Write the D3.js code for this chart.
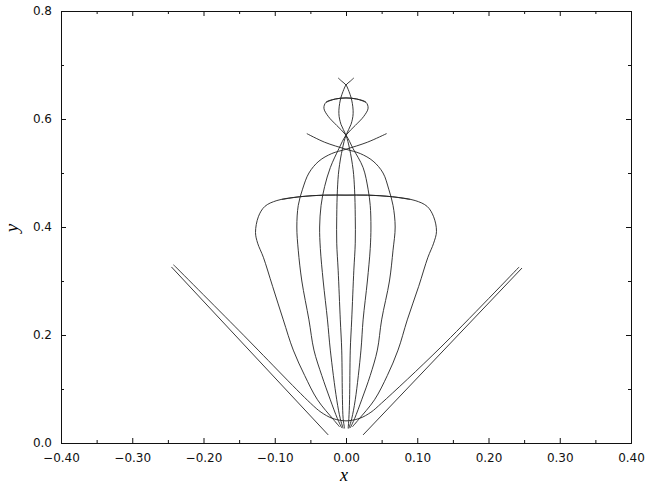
<!DOCTYPE html>
<html>
<head>
<meta charset="utf-8">
<script src="https://cdn.jsdelivr.net/npm/d3@7"></script>
<style>
  body { margin: 0; background: #fff; }
  .tick text { font-family: "DejaVu Sans", sans-serif; font-size: 12px; fill: #111; }
  .tick line, .domain { stroke: #111; }
</style>
</head>
<body>
<div id="chart"></div>
<script>
// tick values
let xTicks = [-0.4, -0.3, -0.2, -0.1, 0, 0.1, 0.2, 0.3, 0.4];
let xMinor = [-0.35, -0.25, -0.15, -0.05, 0.05, 0.15, 0.25, 0.35];
let yTicks = [0, 0.2, 0.4, 0.6, 0.8];
let yMinor = [0.1, 0.3, 0.5, 0.7];

// curves, [x, y]
let innerL = [[-0.002,0.027],[-0.004,0.045],[-0.005,0.08],[-0.006,0.172],[-0.008,0.228],[-0.011,0.32],[-0.013,0.37],[-0.013,0.42],[-0.012,0.47],[-0.010,0.506],[-0.005,0.545],[0,0.57],[0.007,0.59],[0.010,0.61],[0.008,0.635],[0.003,0.655],[0,0.663],[-0.006,0.670],[-0.011,0.676]];
let innerR = [[0.003,0.027],[0.004,0.045],[0.005,0.08],[0.006,0.172],[0.008,0.228],[0.011,0.32],[0.013,0.37],[0.013,0.42],[0.012,0.47],[0.010,0.506],[0.005,0.545],[0,0.57],[-0.007,0.59],[-0.010,0.61],[-0.008,0.635],[-0.003,0.655],[0,0.663],[0.006,0.670],[0.011,0.676]];
let midL = [[-0.004,0.027],[-0.008,0.045],[-0.013,0.08],[-0.022,0.172],[-0.026,0.228],[-0.032,0.30],[-0.036,0.36],[-0.037,0.40],[-0.035,0.44],[-0.030,0.475],[-0.022,0.51],[-0.010,0.545],[0,0.57],[0.013,0.588],[0.025,0.605],[0.031,0.62],[0.028,0.631],[0.015,0.637],[0,0.639],[-0.015,0.637],[-0.028,0.631]];
let midR = [[0.004,0.027],[0.008,0.045],[0.013,0.08],[0.021,0.172],[0.024,0.228],[0.030,0.30],[0.034,0.36],[0.035,0.40],[0.034,0.44],[0.031,0.47],[0.024,0.51],[0.010,0.545],[0,0.57],[-0.013,0.588],[-0.025,0.605],[-0.031,0.62],[-0.028,0.631],[-0.015,0.637],[0,0.639],[0.015,0.637],[0.028,0.631]];
let outerL = [[-0.006,0.028],[-0.012,0.045],[-0.022,0.08],[-0.034,0.125],[-0.045,0.172],[-0.052,0.228],[-0.062,0.30],[-0.067,0.357],[-0.069,0.40],[-0.067,0.44],[-0.061,0.47],[-0.052,0.50],[-0.038,0.522],[-0.02,0.536],[0,0.544],[0.03,0.557],[0.057,0.573]];
let outerR = [[0.006,0.028],[0.012,0.045],[0.022,0.08],[0.034,0.125],[0.044,0.172],[0.050,0.228],[0.061,0.30],[0.066,0.357],[0.069,0.40],[0.066,0.44],[0.060,0.47],[0.052,0.50],[0.038,0.522],[0.02,0.536],[0,0.544],[-0.03,0.557],[-0.055,0.573]];
let bellL = [[-0.009,0.03],[-0.018,0.044],[-0.04,0.08],[-0.058,0.125],[-0.074,0.172],[-0.088,0.228],[-0.103,0.29],[-0.116,0.344],[-0.124,0.37],[-0.127,0.39],[-0.123,0.419],[-0.114,0.438],[-0.097,0.449],[-0.065,0.456],[-0.03,0.459],[0,0.459],[0.03,0.459],[0.065,0.456],[0.09,0.451]];
let bellR = [[0.009,0.03],[0.018,0.044],[0.04,0.08],[0.058,0.125],[0.073,0.172],[0.086,0.228],[0.102,0.29],[0.115,0.344],[0.123,0.37],[0.127,0.392],[0.123,0.419],[0.114,0.438],[0.097,0.449],[0.065,0.456],[0.03,0.459],[0,0.459],[-0.03,0.459],[-0.065,0.456],[-0.09,0.451]];
let valley = [[-0.242,0.33],[-0.15,0.208],[-0.05,0.074],[-0.035,0.057],[-0.02,0.046],[-0.008,0.042],[0,0.041],[0.008,0.042],[0.02,0.046],[0.035,0.057],[0.05,0.074],[0.132,0.176],[0.243,0.326]];
let rayL = [[-0.245,0.326],[-0.025,0.015]];
let rayR = [[0.247,0.324],[0.024,0.015]];

let curves = [innerL, innerR, midL, midR, outerL, outerR, bellL, bellR, valley, rayL, rayR];

let width = 645, height = 487;
let padLeft = 61, padRight = 631, padTop = 11, padBottom = 443;

let svg = d3.select("#chart").append("svg")
  .attr("width", width)
  .attr("height", height);

let x = d3.scaleLinear().domain([-0.4, 0.4]).range([padLeft, padRight]);
let y = d3.scaleLinear().domain([0, 0.8]).range([padBottom, padTop]);

// major + minor ticks on all four sides, pointing inward
svg.append("g").attr("transform", "translate(0," + padBottom + ")")
  .call(d3.axisBottom(x).tickValues(xTicks).tickFormat(d3.format(".2f")).tickSize(-5).tickSizeOuter(0).tickPadding(10));
svg.append("g").attr("transform", "translate(0," + padBottom + ")")
  .call(d3.axisBottom(x).tickValues(xMinor).tickFormat("").tickSize(-3).tickSizeOuter(0));
svg.append("g").attr("transform", "translate(0," + padTop + ")")
  .call(d3.axisTop(x).tickValues(xTicks).tickFormat("").tickSize(-5).tickSizeOuter(0));
svg.append("g").attr("transform", "translate(0," + padTop + ")")
  .call(d3.axisTop(x).tickValues(xMinor).tickFormat("").tickSize(-3).tickSizeOuter(0));

svg.append("g").attr("transform", "translate(" + padLeft + ",0)")
  .call(d3.axisLeft(y).tickValues(yTicks).tickFormat(d3.format(".1f")).tickSize(-5).tickSizeOuter(0).tickPadding(9));
svg.append("g").attr("transform", "translate(" + padLeft + ",0)")
  .call(d3.axisLeft(y).tickValues(yMinor).tickFormat("").tickSize(-3).tickSizeOuter(0));
svg.append("g").attr("transform", "translate(" + padRight + ",0)")
  .call(d3.axisRight(y).tickValues(yTicks).tickFormat("").tickSize(-5).tickSizeOuter(0));
svg.append("g").attr("transform", "translate(" + padRight + ",0)")
  .call(d3.axisRight(y).tickValues(yMinor).tickFormat("").tickSize(-3).tickSizeOuter(0));

let line = d3.line()
  .x(d => x(d[0]))
  .y(d => y(d[1]))
  .curve(d3.curveCatmullRom.alpha(0.5));

svg.append("g").selectAll("path")
  .data(curves)
  .enter()
  .append("path")
  .attr("d", line)
  .attr("fill", "none")
  .attr("stroke", "#222")
  .attr("stroke-width", 0.9);

// axis titles
svg.append("text")
  .attr("x", 344).attr("y", 481)
  .attr("text-anchor", "middle")
  .style("font-family", "'Liberation Serif', serif")
  .style("font-style", "italic")
  .style("font-size", "18px")
  .text("x");

svg.append("text")
  .attr("transform", "translate(18,228) rotate(-90)")
  .attr("text-anchor", "middle")
  .style("font-family", "'Liberation Serif', serif")
  .style("font-style", "italic")
  .style("font-size", "19px")
  .text("y");
</script>
</body>
</html>
